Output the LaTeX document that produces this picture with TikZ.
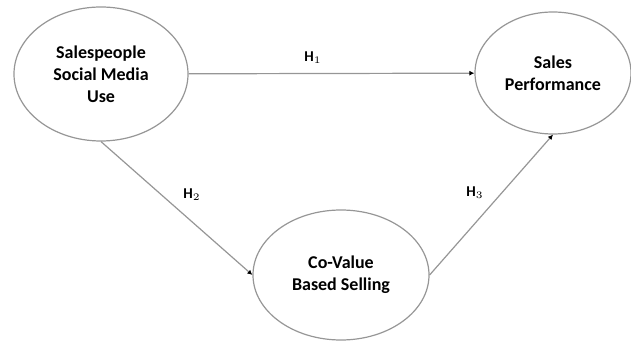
\documentclass[tikz,border=0pt]{standalone}
\usepackage{fontspec}
\setmainfont{Carlito}
\usepackage{tikz}
\usetikzlibrary{arrows.meta, shapes.geometric}
\usepackage{xcolor}
\definecolor{edgeGray}{RGB}{150, 150, 150}

\begin{document}
\begin{tikzpicture}[x=0.5pt, y=-0.5pt,
    construct/.style={ellipse, draw=edgeGray, line width=0.6pt, inner sep=0pt, align=center,
      font=\fontsize{9}{11}\selectfont\bfseries},
    path/.style={draw=edgeGray, line width=0.6pt, -{Latex[length=2.5pt, width=2.5pt, black]}},
    hyp/.style={font=\fontsize{7.5}{9}\selectfont\bfseries}]
  \useasboundingbox (0,0) rectangle (631,341);
  % Constructs
  \node[construct, minimum width=87pt, minimum height=67pt] (smu) at (101,74) {Salespeople\\Social Media\\Use};
  \node[construct, minimum width=78pt, minimum height=61pt] (sp) at (553,73) {Sales\\Performance};
  \node[construct, minimum width=88pt, minimum height=65pt] (cvbs) at (341,275) {Co-Value\\Based Selling};
  % Paths
  \draw[path] (smu) -- (sp);
  \draw[path] (smu.south) -- (cvbs.west);
  \draw[path] (cvbs.east) -- (sp.south);
  % Hypotheses
  \node[hyp] (h1) at (313,58) {H$_1$};
  \node[hyp] (h2) at (192,195) {H$_2$};
  \node[hyp] (h3) at (475,193) {H$_3$};
\end{tikzpicture}
\end{document}
